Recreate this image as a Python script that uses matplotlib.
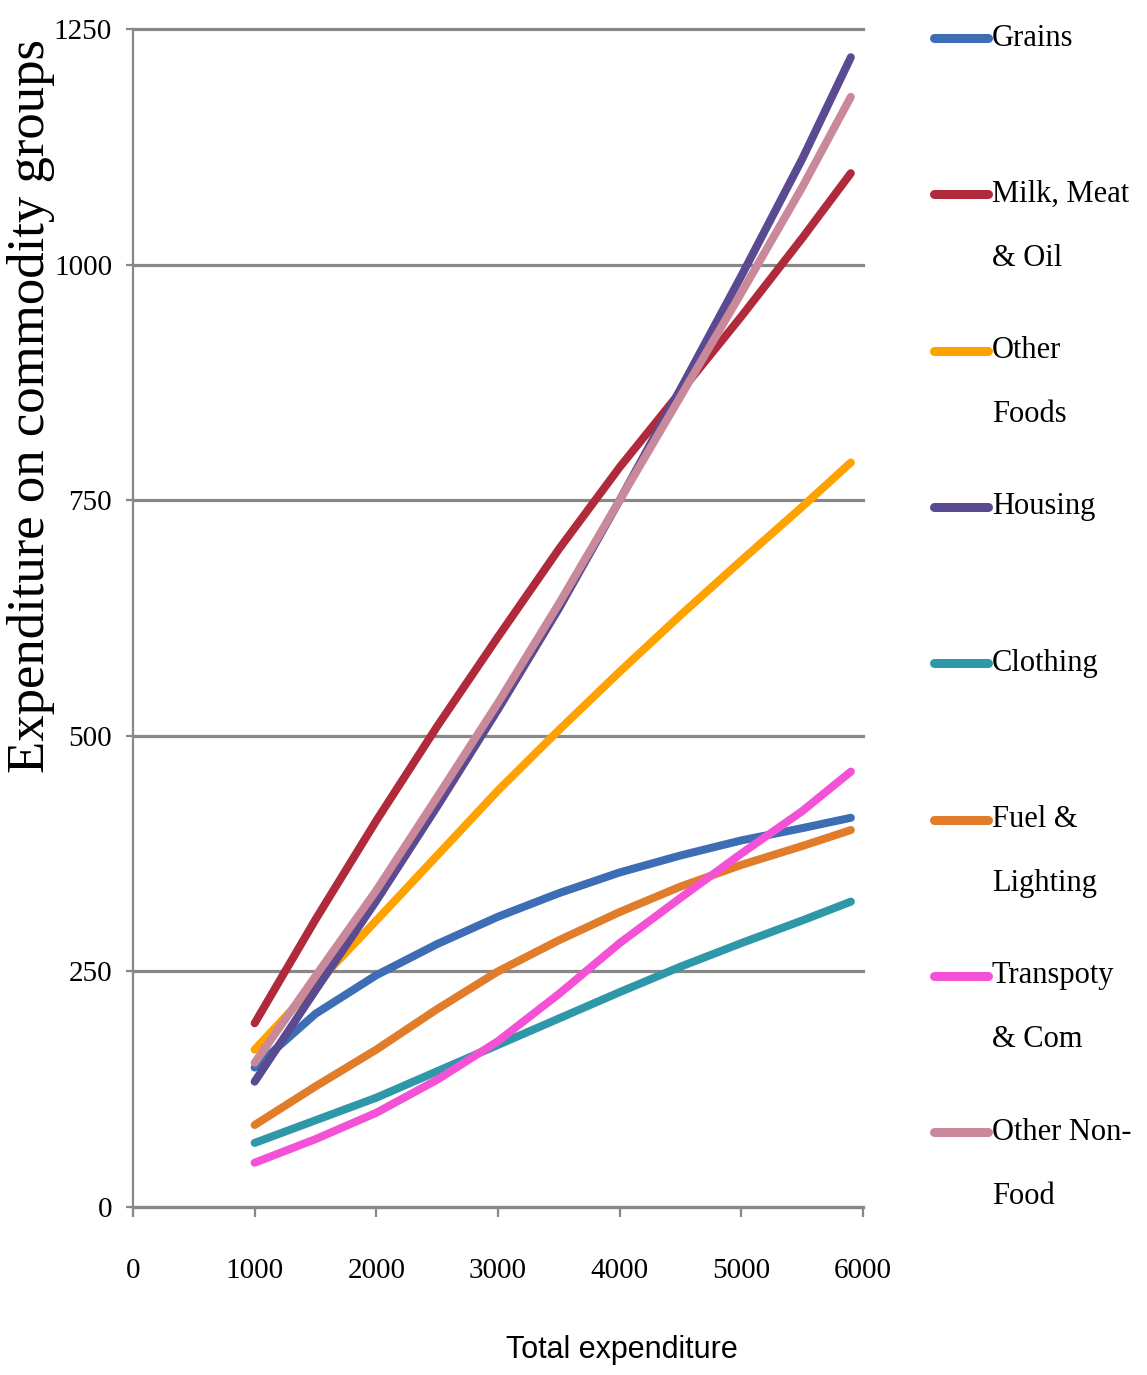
import matplotlib
matplotlib.use("Agg")
import matplotlib.pyplot as plt
from matplotlib.lines import Line2D

# Engel-type curves: expenditure on each commodity group vs total expenditure
total_exp = [1000, 1500, 2000, 2500, 3000, 3500, 4000, 4500, 5000, 5500, 5900]

grains = [148, 205, 246, 279, 308, 333, 355, 373, 389, 402, 413]
milk_meat_oil = [195, 305, 410, 510, 605, 698, 785, 865, 945, 1028, 1097]
other_foods = [167, 236, 304, 373, 442, 506, 568, 628, 686, 743, 790]
housing = [133, 230, 325, 425, 528, 635, 750, 868, 988, 1112, 1220]
clothing = [68, 92, 116, 144, 172, 200, 228, 255, 280, 304, 324]
fuel_lighting = [87, 128, 167, 210, 250, 283, 313, 340, 363, 383, 400]
transport_com = [47, 72, 100, 135, 176, 226, 280, 328, 375, 420, 462]
other_non_food = [153, 245, 336, 435, 535, 640, 750, 860, 970, 1082, 1178]

series_labels = ["Grains", "Milk, Meat\n& Oil", "Other\nFoods", "Housing",
                 "Clothing", "Fuel &\nLighting", "Transpoty\n& Com",
                 "Other Non-\nFood"]
series_values = [grains, milk_meat_oil, other_foods, housing,
                 clothing, fuel_lighting, transport_com, other_non_food]
series_colors = ["#3d6db4", "#b02a3c", "#ffa200", "#5a4a92",
                 "#2f98a8", "#e07c2a", "#f452d6", "#c9899a"]

x_ticks = [0, 1000, 2000, 3000, 4000, 5000, 6000]
y_ticks = [0, 250, 500, 750, 1000, 1250]

W, H = 1147, 1375
fig = plt.figure(figsize=(W / 100, H / 100), dpi=100)
fig.patch.set_facecolor("white")

# axes box in pixels: x 133..863, y 29..1207 (from top)
ax = fig.add_axes([133 / W, 1 - 1207 / H, (863 - 133) / W, (1207 - 29) / H])

serif = "Liberation Serif"
grid_col = "#888888"

for vals, col in zip(series_values, series_colors):
    ax.plot(total_exp, vals, color=col, lw=5.8, solid_capstyle="round",
            solid_joinstyle="round")

ax.set_xlim(0, 6000)
ax.set_ylim(0, 1250)
ax.set_xticks(x_ticks)
ax.set_yticks(y_ticks)
ax.set_xticklabels([str(v) for v in x_ticks], fontfamily=serif, fontsize=21)
ax.set_yticklabels([str(v) for v in y_ticks], fontfamily=serif, fontsize=21)

ax.yaxis.grid(True, color=grid_col, lw=2.3)
for gl in ax.get_ygridlines():
    gl.set_clip_on(False)
ax.set_axisbelow(True)

for side in ["top", "right"]:
    ax.spines[side].set_visible(False)
ax.spines["left"].set_color(grid_col)
ax.spines["left"].set_linewidth(1.6)
ax.spines["bottom"].set_color(grid_col)
ax.spines["bottom"].set_linewidth(2.3)

ax.tick_params(axis="y", length=5, width=1.6, color=grid_col, pad=10)
ax.tick_params(axis="x", length=7, width=1.6, color=grid_col, pad=30)

# axis titles
fig.text(31 / W, 1 - 406 / H, "Expenditure on commodity groups",
         rotation=90, ha="center", va="center", fontfamily=serif, fontsize=38)
fig.text(622 / W, 1 - 1350 / H, "Total expenditure",
         ha="center", va="center",
         fontfamily=["Liberation Sans Narrow", "Liberation Sans"], fontsize=22)

# legend on the right, one entry per series
for i, (lab, col) in enumerate(zip(series_labels, series_colors)):
    y0 = 38 + i * 156.3
    fig.add_artist(Line2D([934 / W, 988 / W], [1 - y0 / H, 1 - y0 / H],
                          color=col, lw=6.5, solid_capstyle="round"))
    for j, line in enumerate(lab.split("\n")):
        fig.text(992 / W, 1 - (y0 + j * 64) / H, line, ha="left",
                 va="center", fontfamily=serif, fontsize=22)

fig.savefig("out.png", dpi=100, facecolor="white")
